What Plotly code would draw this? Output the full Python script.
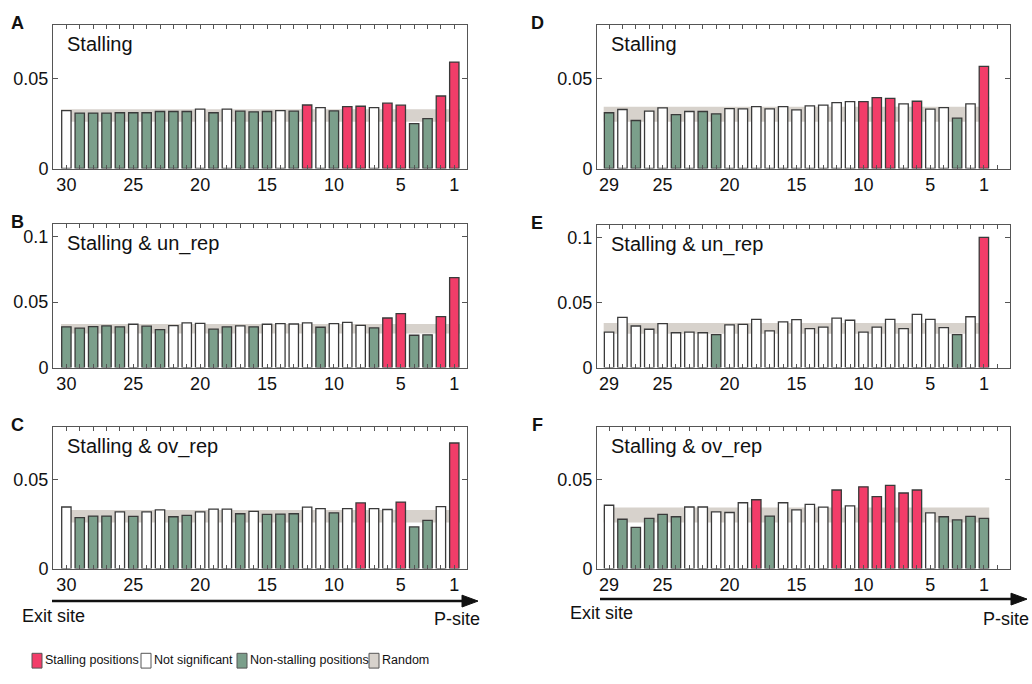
import plotly.graph_objects as go

W, H = 1032, 684

# ---------------- data ----------------
pos_left = list(range(30, 0, -1))   # panels A-C
pos_right = list(range(29, 0, -1))  # panels D-F

labels_left = [30, 25, 20, 15, 10, 5, 1]
labels_right = [29, 25, 20, 15, 10, 5, 1]

# S = stalling position, N = not significant, G = non-stalling position
val_A = [0.0322, 0.0308, 0.0308, 0.0308, 0.0310, 0.0310, 0.0310, 0.0317, 0.0317, 0.0317,
         0.0330, 0.0310, 0.0330, 0.0319, 0.0315, 0.0317, 0.0322, 0.0319, 0.0353, 0.0339,
         0.0320, 0.0344, 0.0346, 0.0339, 0.0363, 0.0352, 0.0249, 0.0277, 0.0403, 0.0592]
cat_A = list("NGGGGGGGGGNGNGGGNGSNGSSNSSGGSS")

val_B = [0.0311, 0.0301, 0.0313, 0.0318, 0.0311, 0.0331, 0.0316, 0.0290, 0.0321, 0.0341,
         0.0338, 0.0293, 0.0311, 0.0318, 0.0311, 0.0331, 0.0336, 0.0333, 0.0341, 0.0308,
         0.0336, 0.0346, 0.0323, 0.0303, 0.0379, 0.0412, 0.0247, 0.0250, 0.0389, 0.0687]
cat_B = list("GGGGGNGGNNNGGNGNNNNGNNNGSSGGSS")

val_C = [0.0347, 0.0287, 0.0296, 0.0296, 0.0320, 0.0294, 0.0320, 0.0331, 0.0292, 0.0300,
         0.0320, 0.0335, 0.0335, 0.0309, 0.0322, 0.0305, 0.0307, 0.0309, 0.0346, 0.0338,
         0.0314, 0.0338, 0.0370, 0.0338, 0.0333, 0.0375, 0.0235, 0.0272, 0.0349, 0.0708]
cat_C = list("NGGGNGNNGGNNNGNGGGNNGNSNNSGGNS")

val_D = [0.0310, 0.0328, 0.0267, 0.0319, 0.0337, 0.0300, 0.0317, 0.0317, 0.0304, 0.0333,
         0.0332, 0.0344, 0.0332, 0.0344, 0.0326, 0.0348, 0.0352, 0.0366, 0.0372, 0.0372,
         0.0394, 0.0390, 0.0359, 0.0374, 0.0330, 0.0339, 0.0280, 0.0359, 0.0568]
cat_D = list("GNGNNGNGGNNNNNNNNNNSSSNSNNGNS")

val_E = [0.0273, 0.0386, 0.0320, 0.0295, 0.0338, 0.0268, 0.0273, 0.0268, 0.0253, 0.0328,
         0.0333, 0.0371, 0.0283, 0.0351, 0.0369, 0.0300, 0.0311, 0.0381, 0.0364, 0.0273,
         0.0311, 0.0371, 0.0300, 0.0409, 0.0371, 0.0308, 0.0253, 0.0391, 0.1002]
cat_E = list("NNNNNNNNGNNNNNNNNNNNNNNNNNGNS")

val_F = [0.0357, 0.0278, 0.0232, 0.0283, 0.0305, 0.0292, 0.0347, 0.0347, 0.0320, 0.0316,
         0.0371, 0.0388, 0.0296, 0.0371, 0.0331, 0.0362, 0.0346, 0.0443, 0.0353, 0.0461,
         0.0406, 0.0469, 0.0426, 0.0443, 0.0314, 0.0292, 0.0274, 0.0294, 0.0283]
cat_F = list("NGGGGGNNNNNSGNNNNSNSSSSSNGGGG")

# random expectation band (low, high) per panel
band_lo = [0.026, 0.026, 0.026, 0.026, 0.026, 0.026]
band_hi = [0.0330, 0.0333, 0.0330, 0.0344, 0.0343, 0.0344]

titles = ["Stalling", "Stalling & un_rep", "Stalling & ov_rep",
          "Stalling", "Stalling & un_rep", "Stalling & ov_rep"]
letters = ["A", "B", "C", "D", "E", "F"]
legend_names = ["Stalling positions", "Not significant", "Non-stalling positions", "Random"]

# ---------------- style ----------------
RED = "#F23D69"
WHITE = "#FFFFFF"
GREEN = "#7B9F8B"
GRAY = "#D7D2CC"
EDGE = "#3A3A3A"
AXC = "#555555"
FONT = "Liberation Sans, Arial, sans-serif"
colmap = {"S": RED, "N": WHITE, "G": GREEN}


def px(x):
    return x / W


def py(y):
    return 1 - y / H


panels = [
    dict(pos=pos_left, val=val_A, cat=cat_A, labels=labels_left, xr=[31, 0.05], yr=[0, 0.08],
         box=(53, 467, 25, 171)),
    dict(pos=pos_left, val=val_B, cat=cat_B, labels=labels_left, xr=[31, 0.05], yr=[0, 0.11],
         box=(53, 467, 227, 373)),
    dict(pos=pos_left, val=val_C, cat=cat_C, labels=labels_left, xr=[31, 0.05], yr=[0, 0.08],
         box=(53, 467, 433, 577)),
    dict(pos=pos_right, val=val_D, cat=cat_D, labels=labels_right, xr=[29.9, -0.95], yr=[0, 0.08],
         box=(597, 1010, 25, 171)),
    dict(pos=pos_right, val=val_E, cat=cat_E, labels=labels_right, xr=[29.9, -0.95], yr=[0, 0.11],
         box=(597, 1010, 228, 373)),
    dict(pos=pos_right, val=val_F, cat=cat_F, labels=labels_right, xr=[29.9, -0.95], yr=[0, 0.08],
         box=(597, 1010, 433, 577)),
]

fig = go.Figure()
layout = dict(width=W, height=H, margin=dict(l=0, r=0, t=0, b=0), autosize=False,
              paper_bgcolor="white", plot_bgcolor="white", showlegend=False,
              font=dict(family=FONT, color="#111"))
annotations = []
shapes = []

for i, p in enumerate(panels):
    n = i + 1
    xa = "x" if n == 1 else f"x{n}"
    ya = "y" if n == 1 else f"y{n}"
    xl, xr_, yt, yb = p["box"]
    # random band (below bars)
    shapes.append(dict(type="rect", xref=xa, yref=ya, layer="below",
                       x0=max(p["pos"]) + 0.4, x1=min(p["pos"]) - 0.4,
                       y0=band_lo[i], y1=band_hi[i], fillcolor=GRAY, line=dict(width=0)))
    fig.add_trace(go.Bar(x=p["pos"], y=p["val"], width=0.7,
                         marker=dict(color=[colmap[c] for c in p["cat"]],
                                     line=dict(color=EDGE, width=1.3)),
                         xaxis=xa, yaxis=ya))
    lo_tick = 0 if min(p["xr"]) < 0 else 1
    allticks = list(range(lo_tick, max(p["pos"]) + 1))
    ticktext = [str(t) if t in p["labels"] else "" for t in allticks]
    yvals = [0, 0.05] if p["yr"][1] < 0.1 else [0, 0.05, 0.1]
    ytext = ["0", "0.05"] if p["yr"][1] < 0.1 else ["0", "0.05", "0.1"]
    layout["xaxis" if n == 1 else f"xaxis{n}"] = dict(
        domain=[px(xl), px(xr_)], anchor=ya, range=p["xr"],
        tickmode="array", tickvals=allticks, ticktext=ticktext,
        ticks="inside", ticklen=4, tickwidth=1, tickcolor=AXC,
        showline=True, linecolor=AXC, linewidth=1, mirror="ticks",
        showgrid=False, zeroline=False, tickfont=dict(size=18, color="#111"),
        fixedrange=True)
    layout["yaxis" if n == 1 else f"yaxis{n}"] = dict(
        domain=[py(yb), py(yt)], anchor=xa, range=p["yr"],
        tickmode="array", tickvals=yvals, ticktext=ytext,
        ticks="inside", ticklen=5, tickwidth=1, tickcolor=AXC,
        showline=True, linecolor=AXC, linewidth=1, mirror="ticks",
        showgrid=False, zeroline=False, tickfont=dict(size=18, color="#111"),
        fixedrange=True)
    # panel title inside
    annotations.append(dict(x=px(xl + 12), y=py(yt + 20), xref="paper", yref="paper",
                            text=titles[i], showarrow=False, xanchor="left", yanchor="middle",
                            font=dict(size=20, family=FONT, color="#111")))
    # panel letter
    lx = 17 if i < 3 else 537
    annotations.append(dict(x=px(lx), y=py(yt - 2), xref="paper", yref="paper",
                            text=f"<b>{letters[i]}</b>", showarrow=False, xanchor="center",
                            yanchor="middle", font=dict(size=18, family=FONT, color="#111")))

# direction arrows
for (x0, x1, y, ex_x, ex_y, ps_x, ps_y) in [(52, 478, 610, 20, 625, 482, 628),
                                             (600, 1027, 608, 568, 622, 1031, 628)]:
    shapes.append(dict(type="line", xref="paper", yref="paper", x0=px(x0), x1=px(x1 - 14),
                       y0=py(y), y1=py(y), line=dict(color="#111", width=2.5)))
    shapes.append(dict(type="path", xref="paper", yref="paper",
                       path=f"M {px(x1-16)},{py(y-6)} L {px(x1)},{py(y)} L {px(x1-16)},{py(y+6)} Z",
                       fillcolor="#111", line=dict(color="#111", width=1)))
    annotations.append(dict(x=px(ex_x), y=py(ex_y), xref="paper", yref="paper",
                            text="Exit site", showarrow=False, xanchor="left", yanchor="middle",
                            font=dict(size=18, family=FONT, color="#111")))
    annotations.append(dict(x=px(ps_x), y=py(ps_y), xref="paper", yref="paper",
                            text="P-site", showarrow=False, xanchor="right", yanchor="middle",
                            font=dict(size=18, family=FONT, color="#111")))

# legend (manual)
leg_items = [(32, RED, legend_names[0]), (141, WHITE, legend_names[1]),
             (237, GREEN, legend_names[2]), (369, GRAY, legend_names[3])]
for (lx, col, name) in leg_items:
    shapes.append(dict(type="rect", xref="paper", yref="paper", x0=px(lx), x1=px(lx + 10),
                       y0=py(678), y1=py(663), fillcolor=col, line=dict(color="#555", width=1)))
    annotations.append(dict(x=px(lx + 11), y=py(670), xref="paper", yref="paper",
                            text=name, showarrow=False, xanchor="left", yanchor="middle",
                            font=dict(size=12.5, family=FONT, color="#111")))

layout["annotations"] = annotations
layout["shapes"] = shapes
fig.update_layout(**layout)
fig.write_html("out.html", config={"displayModeBar": False},
               post_script="document.body.style.margin='0px';")
